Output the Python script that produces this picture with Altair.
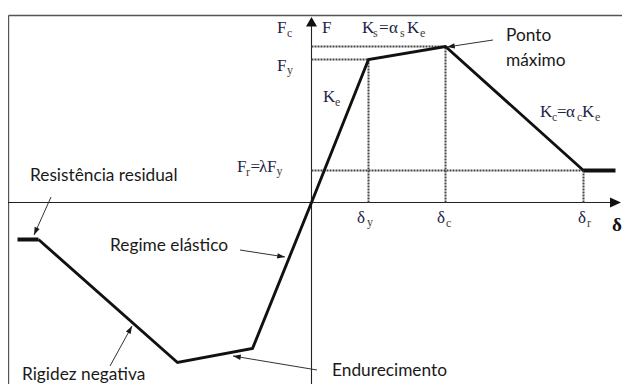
import math
import altair as alt
import pandas as pd

# ---- data (units relative to the origin of the F-delta diagram) ----
curve_x = [-273, -134, -59, 0, 57, 134, 272]
curve_y = [-37, -160, -146, 0, 143, 156, 32]

resid_x = [-294, 272]
resid_x2 = [-273, 304]
resid_y = [-37, 32]

# reference levels: F_c, F_y, F_r and displacements delta_y, delta_c, delta_r
level_F = [156, 143, 32]
level_end = [134, 57, 272]
delta_x = [57, 134, 272]
delta_top = [143, 156, 32]

# annotation labels (sans)
note_text = ["Resistência residual", "Ponto", "máximo", "Regime elástico",
             "Rigidez negativa", "Endurecimento"]
note_x = [-281.5, 194.5, 194.5, -201.5, -289.5, 20.5]
note_y = [21.5, 161.5, 136.5, -48.5, -177, -173.5]

# annotation arrows: start -> tip
arr_x = [181.5, -260.5, -71.5, -201.5, 5.5]
arr_y = [162.5, 5.5, -47.5, -163.5, -167.5]
arr_tx = [135.5, -277.5, -26.5, -179.5, -78.5]
arr_ty = [155.5, -32.5, -54.5, -123.5, -153.5]

# math labels split into main glyphs and subscripts
main_text = ["F", "F", "K", "=", "α", "K", "F", "K", "F", "=", "λ", "F",
             "δ", "δ", "δ", "K", "=", "α", "K"]
main_x = [-34.5, 10.5, 50.5, 67.5, 77.5, 95.5, -34.5, 11.5, -74.5, -61, -52.5, -44.5,
          45.5, 125.5, 266.5, 228.5, 245.5, 254.5, 270.5]
main_y = [169.5, 169.5, 169.5, 169.5, 169.5, 169.5, 131.5, 100.5, 30.5, 30.5, 30.5, 30.5,
          -20.5, -20.5, -20.5, 85.5, 85.5, 85.5, 85.5]
sub_text = ["c", "s", "s", "e", "y", "e", "r", "y", "y", "c", "r", "c", "c", "e"]
sub_x = [-24.5, 61.5, 88.5, 108.5, -24.5, 23.5, -65.5, -35, 55.5, 134.5, 275.5,
         240.5, 265.5, 283.5]
sub_y = [165.5, 165.5, 165.5, 165.5, 128.5, 96.5, 26.5, 27.5, -23.5, -24.5, -24.5,
         81.5, 81.5, 81.5]
axis_label = ["δ"]
axis_label_x = [300.5]
axis_label_y = [-28.5]

# frame and axes extents
frame_left = -303
frame_top = 187
y_axis_from, y_axis_to = -185, 178
x_axis_from, x_axis_to = -307, 301

# axis arrowheads (triangles): y-axis head pointing up, x-axis head pointing right
yhead_y = [176, 185.5]
yhead_x = [-5.5, 0]
yhead_x2 = [5.5, 0]
xhead_x = [298.5, 309.5]
xhead_y = [-5, 0]
xhead_y2 = [5, 0]

XD = [-303.5, 310.5]
YD = [-181.5, 194.5]


def X(f="x"):
    return alt.X(f"{f}:Q", scale=alt.Scale(domain=XD, nice=False, zero=False), axis=None)


def Y(f="y"):
    return alt.Y(f"{f}:Q", scale=alt.Scale(domain=YD, nice=False, zero=False), axis=None)


# frame
frame = pd.DataFrame({
    "x": [frame_left, frame_left], "x2": [frame_left, 330],
    "y": [frame_top, frame_top], "y2": [-200, frame_top]})
frame_l = alt.Chart(frame).mark_rule(color="#555", strokeWidth=1.4).encode(
    x=X(), y=Y(), x2="x2:Q", y2="y2:Q")

# axes
axes = pd.DataFrame({"x": [0, x_axis_from], "x2": [0, x_axis_to],
                     "y": [y_axis_from, 0], "y2": [y_axis_to, 0]})
axes_l = alt.Chart(axes).mark_rule(color="#222", strokeWidth=1.1).encode(
    x=X(), y=Y(), x2="x2:Q", y2="y2:Q")

yhead = pd.DataFrame({"y": yhead_y, "x": yhead_x, "x2": yhead_x2})
yhead_l = alt.Chart(yhead).mark_area(color="#111", opacity=1, orient="horizontal").encode(
    y=Y(), x=X(), x2="x2:Q")
xhead = pd.DataFrame({"x": xhead_x, "y": xhead_y, "y2": xhead_y2})
xhead_l = alt.Chart(xhead).mark_area(color="#111", opacity=1, orient="vertical").encode(
    x=X(), y=Y(), y2="y2:Q")


def head_rows(sx, sy, tx, ty, size):
    rows = []
    r = math.sqrt(size) / 2
    for a, b, c, d in zip(sx, sy, tx, ty):
        dx, dy = c - a, d - b
        n = math.hypot(dx, dy)
        ux, uy = dx / n, dy / n
        ang = math.degrees(math.atan2(dx, dy)) % 360
        rows.append({"x": c - r * ux, "y": d - r * uy, "angle": ang})
    return pd.DataFrame(rows)


heads = head_rows(arr_x, arr_y, arr_tx, arr_ty, 60)
heads_l = alt.Chart(heads).mark_point(
    shape="M0,-1L0.7,1L-0.7,1Z", size=60, filled=True, color="#1a1a1a",
    opacity=1, strokeWidth=0).encode(
    x=X(), y=Y(), angle=alt.Angle("angle:Q", scale=None))

# dotted reference lines
dots = pd.DataFrame({
    "x": [0] * 3 + delta_x, "x2": level_end + delta_x,
    "y": level_F + [0] * 3, "y2": level_F + delta_top})
dots_l = alt.Chart(dots).mark_rule(color="#444", strokeWidth=2, strokeDash=[2, 1]).encode(
    x=X(), y=Y(), x2="x2:Q", y2="y2:Q")

# curve
curve = pd.DataFrame({"x": curve_x, "y": curve_y, "o": range(len(curve_x))})
curve_l = alt.Chart(curve).mark_line(color="#111", strokeWidth=2.9, strokeJoin="miter").encode(
    x=X(), y=Y(), order="o:Q")

resid = pd.DataFrame({"x": resid_x, "x2": resid_x2, "y": resid_y})
resid_l = alt.Chart(resid).mark_rule(color="#111", strokeWidth=4).encode(
    x=X(), y=Y(), x2="x2:Q")

# annotation arrows
arr = pd.DataFrame({"x": arr_x, "y": arr_y, "x2": arr_tx, "y2": arr_ty})
arr_l = alt.Chart(arr).mark_rule(color="#333", strokeWidth=1).encode(
    x=X(), y=Y(), x2="x2:Q", y2="y2:Q")

# texts
notes = pd.DataFrame({"t": note_text, "x": note_x, "y": note_y})
notes_l = alt.Chart(notes).mark_text(
    font="Lato", fontSize=17.3, align="left", baseline="alphabetic", color="#1a1a1a").encode(
    x=X(), y=Y(), text="t:N")

mains = pd.DataFrame({"t": main_text, "x": main_x, "y": main_y})
mains_l = alt.Chart(mains).mark_text(
    font="Liberation Serif", fontSize=17, align="left", baseline="alphabetic",
    color="#1e2448").encode(x=X(), y=Y(), text="t:N")

subs = pd.DataFrame({"t": sub_text, "x": sub_x, "y": sub_y})
subs_l = alt.Chart(subs).mark_text(
    font="Liberation Serif", fontSize=12, align="left", baseline="alphabetic",
    color="#4a3b34").encode(x=X(), y=Y(), text="t:N")

axlab = pd.DataFrame({"t": axis_label, "x": axis_label_x, "y": axis_label_y})
axlab_l = alt.Chart(axlab).mark_text(
    font="Liberation Serif", fontSize=19, fontWeight="bold", align="left",
    baseline="alphabetic", color="#111").encode(x=X(), y=Y(), text="t:N")

chart = alt.layer(
    frame_l, axes_l, yhead_l, xhead_l, dots_l, curve_l, resid_l, arr_l, heads_l,
    notes_l, mains_l, subs_l, axlab_l
).properties(
    width=614, height=376, autosize=alt.AutoSizeParams(type="none"), padding=0,
    background="white"
).configure_view(strokeWidth=0)

chart.save("out.html", embed_options={"renderer": "svg", "actions": False})
